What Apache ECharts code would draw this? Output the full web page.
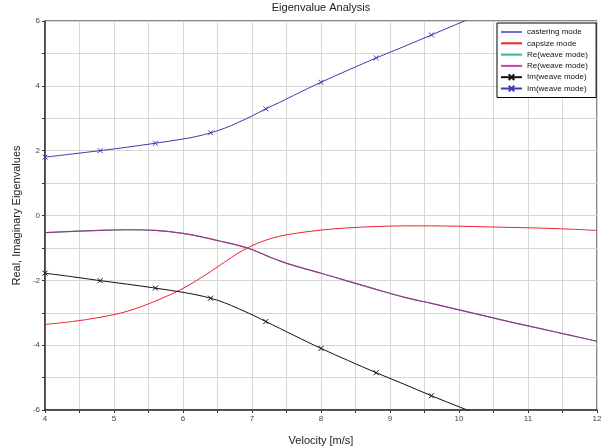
<!DOCTYPE html>
<html>
<head>
<meta charset="utf-8">
<title>Eigenvalue Analysis</title>
<script src="https://cdn.jsdelivr.net/npm/echarts@6/dist/echarts.min.js"></script>
<style>
  html, body { margin: 0; padding: 0; background: #fff; }
  #chart { width: 611px; height: 447px; }
</style>
</head>
<body>
<div id="chart"></div>
<script>
  // velocity samples [m/s]
  var velocity = [4.0, 4.4, 4.8, 5.2, 5.6, 6.0, 6.2, 6.4, 6.6, 6.8, 7.0, 7.2, 7.4, 7.6,
    8.0, 8.4, 8.8, 9.2, 9.6, 10.0, 10.4, 10.8, 11.2, 11.6, 12.0]
  // velocities where the Im(weave) curves carry a cross marker
  var markerVelocity = [4.0, 4.8, 5.6, 6.4, 7.2, 8.0, 8.8, 9.6]

  var castering = []
  var capsize = [-3.36, -3.27, -3.14, -2.95, -2.64, -2.25, -2.00, -1.73, -1.44, -1.16, -0.93, -0.76, -0.64, -0.56,
    -0.45, -0.38, -0.34, -0.32, -0.32, -0.33, -0.35, -0.37, -0.39, -0.42, -0.46]
  var reWeave = [-0.53, -0.49, -0.46, -0.44, -0.46, -0.55, -0.63, -0.72, -0.82, -0.92, -1.05, -1.23, -1.40, -1.54,
    -1.78, -2.03, -2.28, -2.52, -2.71, -2.91, -3.11, -3.31, -3.50, -3.69, -3.88]
  var imWeaveNeg = [-1.78, -1.89, -2.01, -2.12, -2.24, -2.37, -2.45, -2.55, -2.69, -2.87, -3.06, -3.27, -3.48, -3.69,
    -4.10, -4.48, -4.85, -5.20, -5.56, -5.90, -6.24]
  var imWeavePos = [1.80, 1.90, 2.00, 2.11, 2.23, 2.36, 2.44, 2.55, 2.69, 2.87, 3.07, 3.29, 3.49, 3.70,
    4.11, 4.49, 4.86, 5.21, 5.57, 5.93, 6.29]

  var names = ['castering mode', 'capsize mode', 'Re(weave mode)', 'Re(weave mode) ', 'Im(weave mode)', 'Im(weave mode) ']
  var cross = 'path://M0,0L8,8M8,0L0,8'

  function pairs (vals) {
    return vals.map(function (v, i) { return [velocity[i], v] })
  }
  function marked (vals) {
    return vals.map(function (v, i) {
      var x = velocity[i]
      var hit = markerVelocity.some(function (m) { return Math.abs(m - x) < 1e-6 })
      return hit ? { value: [x, v] } : { value: [x, v], symbol: 'none' }
    })
  }

  var font = 'Liberation Sans, Arial, sans-serif'
  var noDot = { opacity: 0 }
  var chart = echarts.init(document.getElementById('chart'))
  chart.setOption({
    animation: false,
    title: {
      text: 'Eigenvalue Analysis',
      left: 321,
      textAlign: 'center',
      top: 2,
      padding: 0,
      textStyle: { fontFamily: font, fontSize: 11, fontWeight: 'normal', color: '#222' }
    },
    legend: {
      data: [
        { name: names[0], itemStyle: noDot },
        { name: names[1], itemStyle: noDot },
        { name: names[2], itemStyle: noDot },
        { name: names[3], itemStyle: noDot, lineStyle: { color: '#d040b0' } },
        { name: names[4] },
        { name: names[5] }
      ],
      orient: 'vertical',
      left: 497,
      top: 23,
      itemWidth: 21,
      itemHeight: 7,
      itemGap: 3.3,
      padding: [5, 6, 5, 3],
      backgroundColor: '#fff',
      borderColor: '#000',
      borderWidth: 1,
      textStyle: { fontFamily: font, fontSize: 8, color: '#111' }
    },
    grid: {
      left: 45,
      right: 14,
      top: 21,
      bottom: 37,
      outerBoundsMode: 'none',
      containLabel: false,
      show: true,
      borderColor: '#111',
      borderWidth: 1
    },
    xAxis: {
      type: 'value',
      min: 4,
      max: 12,
      interval: 0.5,
      name: 'Velocity [m/s]',
      nameLocation: 'middle',
      nameGap: 25,
      nameTextStyle: { fontFamily: font, fontSize: 11, color: '#222' },
      axisLine: { onZero: false, lineStyle: { color: '#333', width: 1.5 } },
      axisTick: { inside: false, length: 3, lineStyle: { color: '#333' } },
      axisLabel: {
        margin: 5,
        fontFamily: font,
        fontSize: 8,
        color: '#444',
        formatter: function (v) { return Number.isInteger(v) ? String(v) : '' }
      },
      splitLine: { show: true, lineStyle: { color: '#d6d6d6', width: 1 } }
    },
    yAxis: {
      type: 'value',
      min: -6,
      max: 6,
      interval: 1,
      name: 'Real, Imaginary Eigenvalues',
      nameLocation: 'middle',
      nameGap: 22,
      nameTextStyle: { fontFamily: font, fontSize: 11, color: '#222' },
      axisLine: { show: true, onZero: false, lineStyle: { color: '#333', width: 1.5 } },
      axisTick: { show: true, inside: false, length: 3, lineStyle: { color: '#333' } },
      axisLabel: {
        margin: 5,
        fontFamily: font,
        fontSize: 8,
        color: '#444',
        formatter: function (v) { return v % 2 === 0 ? String(v) : '' }
      },
      splitLine: { show: true, lineStyle: { color: '#d6d6d6', width: 1 } }
    },
    series: [
      {
        name: names[0], type: 'line', symbol: 'none', color: '#6b6bd0',
        lineStyle: { width: 1 }, data: castering
      },
      {
        name: names[1], type: 'line', symbol: 'none', smooth: 0.35, color: '#f0222e',
        lineStyle: { width: 1 }, data: pairs(capsize)
      },
      {
        name: names[2], type: 'line', symbol: 'none', smooth: 0.35, color: '#3cb878',
        lineStyle: { width: 1 }, data: pairs(reWeave)
      },
      {
        name: names[3], type: 'line', symbol: 'none', smooth: 0.35, color: '#9c3490',
        lineStyle: { width: 1.2 }, data: pairs(reWeave)
      },
      {
        name: names[4], type: 'line', symbol: cross, symbolSize: 5, smooth: 0.35, color: '#111',
        itemStyle: { borderColor: '#111', borderWidth: 1 },
        lineStyle: { width: 1 }, data: marked(imWeaveNeg)
      },
      {
        name: names[5], type: 'line', symbol: cross, symbolSize: 5, smooth: 0.35, color: '#3b3bb0',
        itemStyle: { borderColor: '#3b3bb0', borderWidth: 1 },
        lineStyle: { width: 1 }, data: marked(imWeavePos)
      }
    ]
  })
</script>
</body>
</html>
